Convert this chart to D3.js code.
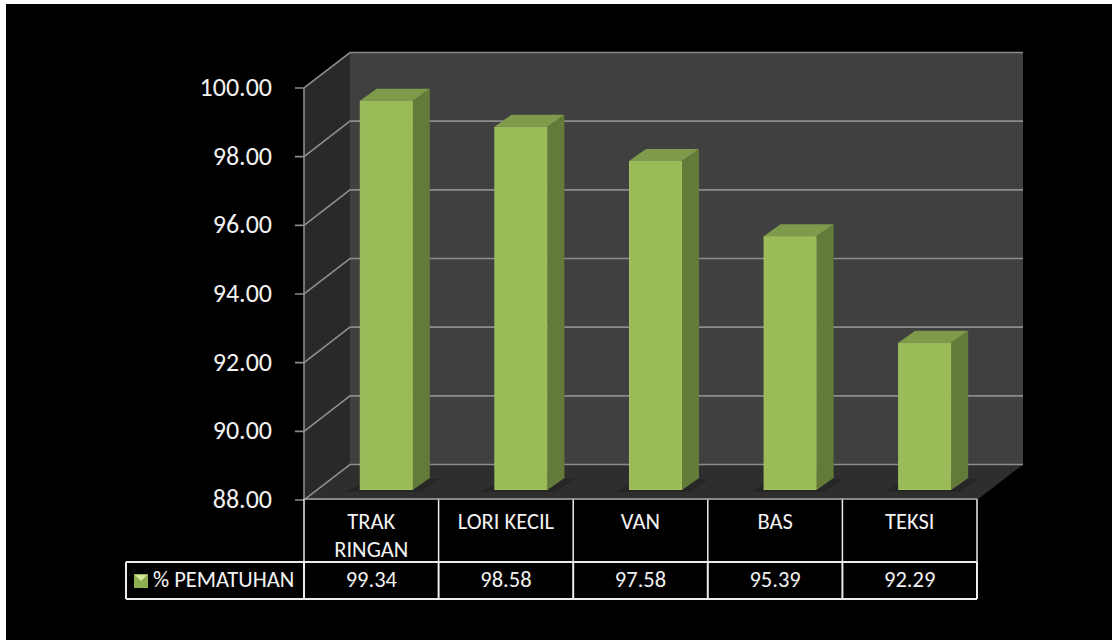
<!DOCTYPE html>
<html>
<head>
<meta charset="utf-8">
<script src="https://cdn.jsdelivr.net/npm/d3@7"></script>
<style>
    html, body { margin: 0; padding: 0; background: #fff; }
    svg { display: block; }
    text { font-family: Carlito, "Open Sans", "Noto Sans", sans-serif; fill: #f2f2f2; }
</style>
</head>
<body>
<svg id="chart" width="1112" height="640"></svg>
<script>
var categories = [["TRAK", "RINGAN"], ["LORI KECIL"], ["VAN"], ["BAS"], ["TEKSI"]];
var values = [99.34, 98.58, 97.58, 95.39, 92.29];
var valueLabels = ["99.34", "98.58", "97.58", "95.39", "92.29"];
var yTicks = [88, 90, 92, 94, 96, 98, 100];
var seriesName = "% PEMATUHAN";

(function () {
    var svg = d3.select("#chart");

    // Front plane of the 3D box, the back wall is offset by depth.
    var left = 304, right = 977, bottom = 500, top = 88,
        depthX = 46, depthY = -35.5,
        barShiftX = 15, barShiftY = -10,
        barDepthX = 17, barDepthY = -12;

    var y = d3.scaleLinear().domain([88, 100]).range([bottom, top]);
    var x = d3.scaleBand().domain(d3.range(categories.length)).range([left, right]);
    var barWidth = 53;
    var lineColor = "#8c8c8c";

    function poly(points, fill) {
        return svg.append("polygon")
            .attr("points", points.map(function (p) { return p.join(","); }).join(" "))
            .attr("fill", fill);
    }

    // Black slide, the white only shows along the top and left edge.
    svg.append("rect")
        .attr("x", 6).attr("y", 4)
        .attr("width", 1106).attr("height", 636)
        .attr("fill", "#000");

    // Walls and floor.
    poly([[left, top], [left + depthX, top + depthY], [left + depthX, bottom + depthY], [left, bottom]], "#292929");
    poly([[left + depthX, top + depthY], [right + depthX, top + depthY], [right + depthX, bottom + depthY], [left + depthX, bottom + depthY]], "#404040");
    poly([[left, bottom], [left + depthX, bottom + depthY], [right + depthX, bottom + depthY], [right, bottom]], "#2e2e2e");

    // Gridlines run along side wall then along back wall.
    yTicks.forEach(function (t) {
        svg.append("polyline")
            .attr("points", [
                [left - 9, y(t)],
                [left, y(t)],
                [left + depthX, y(t) + depthY],
                [right + depthX, y(t) + depthY]
            ].map(function (p) { return p.join(","); }).join(" "))
            .attr("fill", "none")
            .attr("stroke", lineColor)
            .attr("stroke-width", 1.6);
    });

    svg.append("line")
        .attr("x1", left).attr("x2", left)
        .attr("y1", top).attr("y2", bottom)
        .attr("stroke", lineColor).attr("stroke-width", 1.6);

    svg.selectAll(".ytick")
        .data(yTicks)
        .enter().append("text")
        .attr("class", "ytick")
        .attr("x", 272)
        .attr("y", function (d) { return y(d) + 8; })
        .attr("text-anchor", "end")
        .attr("font-size", 26)
        .text(function (d) { return d.toFixed(2); });

    // Bars.
    values.forEach(function (v, i) {
        var x0 = x(i) + (x.bandwidth() - barWidth) / 2 + barShiftX,
            x1 = x0 + barWidth,
            yTop = y(v) + barShiftY,
            yBase = y(88) + barShiftY;

        // Floor shadow
        poly([[x0 - 14, yBase + 2], [x1 + 8, yBase + 2], [x1 + barDepthX + 10, yBase + barDepthY + 1], [x0 + 10, yBase + barDepthY + 1]], "#262626");
        // Side face
        poly([[x1, yTop], [x1 + barDepthX, yTop + barDepthY], [x1 + barDepthX, yBase + barDepthY], [x1, yBase]], "#647a39");
        // Top face
        poly([[x0, yTop], [x0 + barDepthX, yTop + barDepthY], [x1 + barDepthX, yTop + barDepthY], [x1, yTop]], "#7f9a4b");
        // Front face with a soft bevel edge
        svg.append("rect")
            .attr("x", x0 + 0.5).attr("y", yTop + 0.5)
            .attr("width", barWidth - 1).attr("height", yBase - yTop - 1)
            .attr("fill", "#9bbb59")
            .attr("stroke", "#a3c361")
            .attr("stroke-width", 1);
    });

    // Data table, the value row has heavier lines than the category row.
    var tableTop = bottom - 1, rowSplit = 562, tableBottom = 599, legendLeft = 126;
    var thinLines = [[left, tableTop, left, rowSplit]],
        heavyLines = [
            [left, rowSplit, left, tableBottom],
            [legendLeft, rowSplit, legendLeft, tableBottom],
            [legendLeft, rowSplit, right, rowSplit],
            [legendLeft, tableBottom, right, tableBottom]
        ];
    x.domain().forEach(function (i) {
        var edge = x(i) + x.bandwidth();
        thinLines.push([edge, tableTop, edge, rowSplit]);
        heavyLines.push([edge, rowSplit, edge, tableBottom]);
    });

    function tableLines(cls, lines, width) {
        svg.selectAll("." + cls)
            .data(lines)
            .enter().append("line")
            .attr("class", cls)
            .attr("x1", function (d) { return d[0]; })
            .attr("y1", function (d) { return d[1]; })
            .attr("x2", function (d) { return d[2]; })
            .attr("y2", function (d) { return d[3]; })
            .attr("stroke", "#ececec")
            .attr("stroke-width", width);
    }
    tableLines("thin", thinLines, 1.5);
    tableLines("heavy", heavyLines, 2);

    svg.append("line")
        .attr("x1", left).attr("x2", right)
        .attr("y1", tableTop).attr("y2", tableTop)
        .attr("stroke", "#a6a6a6").attr("stroke-width", 1.6);

    categories.forEach(function (lines, i) {
        lines.forEach(function (s, j) {
            svg.append("text")
                .attr("x", x(i) + x.bandwidth() / 2)
                .attr("y", 529 + j * 28)
                .attr("text-anchor", "middle")
                .attr("font-size", 22.5)
                .text(s);
        });
        svg.append("text")
            .attr("x", x(i) + x.bandwidth() / 2)
            .attr("y", 587)
            .attr("text-anchor", "middle")
            .attr("font-size", 22.5)
            .text(valueLabels[i]);
    });

    // Legend key.
    svg.append("rect")
        .attr("x", 134).attr("y", 574)
        .attr("width", 14).attr("height", 14)
        .attr("fill", "#8fae4f");
    poly([[135, 575], [147, 575], [141, 581]], "#d4e6a0");

    svg.append("text")
        .attr("x", 153)
        .attr("y", 587)
        .attr("font-size", 22.5)
        .text(seriesName);
}());
</script>
</body>
</html>
